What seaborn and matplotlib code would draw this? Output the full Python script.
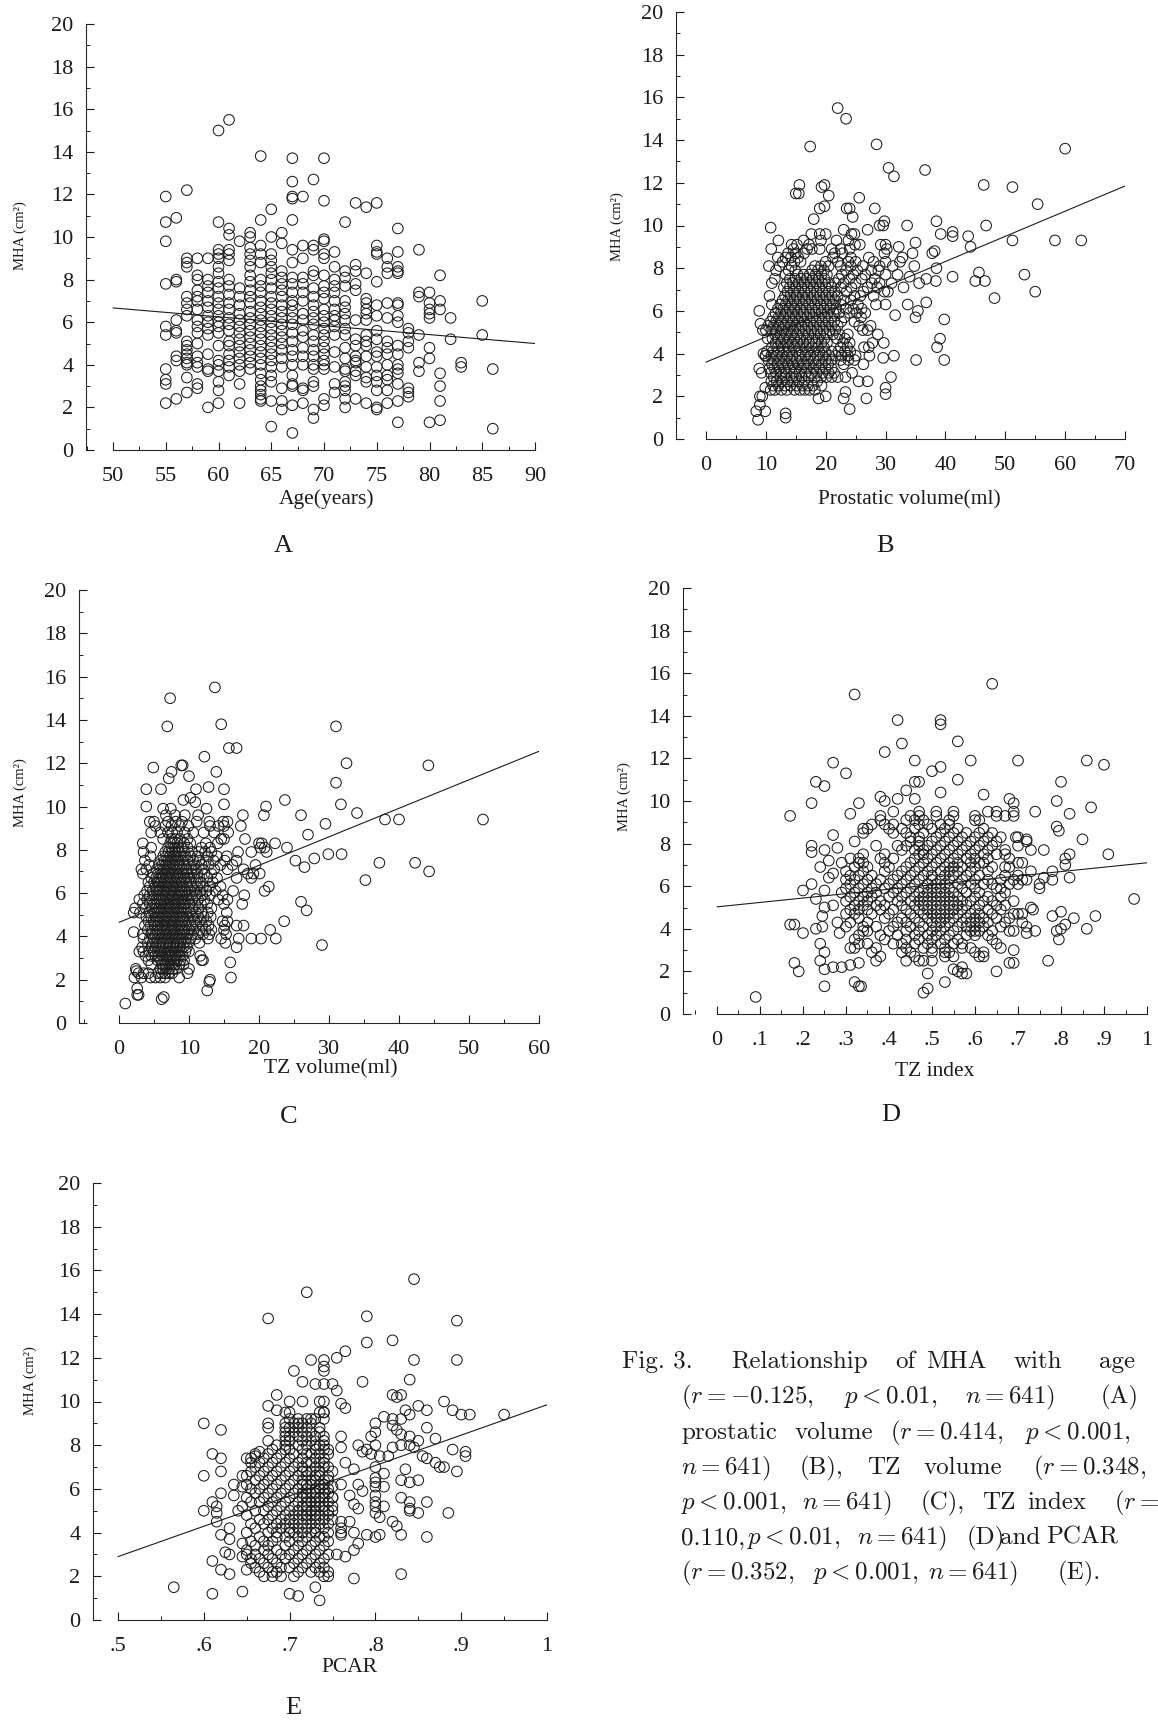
import matplotlib
matplotlib.use("Agg")
import matplotlib.pyplot as plt
import seaborn as sns
from matplotlib.ticker import MultipleLocator

sns.set_theme(style="ticks")
plt.rcParams['font.family'] = ['Liberation Serif', 'DejaVu Serif']

W, H = 1158, 1722
INK = '#1c1c1c'

# ---- panel A, age is whole years so one list of MHA per age
a_ages = [55,56,57,58,59,60,61,62,63,64,65,66,67,68,69,70,71,72,73,74,75,76,77,78,79,80,81,82,83,85,86]
a_mha = [
 [11.9,10.7,9.8,7.8,5.8,5.4,3.8,3.3,3.1,2.2],
 [10.9,8.0,7.9,6.1,5.6,5.5,4.4,4.2,2.4],
 [12.2,9.0,8.8,8.6,7.2,6.9,6.6,6.3,5.1,4.9,4.7,4.5,4.3,4.1,4.0,3.4,2.7],
 [9.0,8.2,8.0,7.5,7.2,7.0,6.6,6.1,5.8,5.5,5.0,4.4,4.1,3.9,3.1,2.9],
 [9.0,8.0,7.7,7.4,7.0,6.7,6.3,6.0,5.7,5.4,4.5,3.8,3.7,2.0],
 [15.0,10.7,9.4,9.2,9.0,8.6,8.3,7.9,7.6,7.2,6.9,6.6,6.3,6.0,5.8,5.5,4.9,4.2,4.0,3.7,3.2,2.8,2.2],
 [15.5,10.4,10.1,9.4,9.2,8.9,8.0,7.7,7.3,6.9,6.6,6.2,5.9,5.6,5.1,4.9,4.5,4.2,3.9,3.5],
 [9.8,7.6,7.2,6.8,6.4,6.1,5.8,5.5,5.2,4.9,4.6,4.3,4.0,3.7,3.1,2.2],
 [10.2,10.0,9.5,9.2,8.9,8.6,8.2,7.9,7.5,7.2,6.9,6.5,6.2,5.9,5.6,5.3,5.0,4.7,4.4,4.1,3.8],
 [13.8,10.8,9.6,9.2,8.8,8.0,7.7,7.4,7.0,6.7,6.4,6.1,5.8,5.5,5.2,4.9,4.6,4.3,4.0,3.6,3.3,3.0,2.8,2.6,2.4,2.3],
 [11.3,10.0,9.2,8.9,8.6,8.3,8.0,7.6,7.2,6.9,6.6,6.3,6.0,5.7,5.4,5.1,4.8,4.5,4.2,3.9,3.5,3.2,2.3,1.1],
 [10.2,9.7,8.4,8.1,7.8,7.5,7.2,6.8,6.5,6.2,5.9,5.6,5.3,5.0,4.7,4.3,3.9,2.9,2.3,1.9],
 [13.7,12.6,11.9,11.8,10.8,9.4,8.8,8.1,7.8,7.4,7.0,6.8,6.5,6.2,5.9,5.5,5.1,4.7,4.4,4.0,3.5,3.1,3.0,2.1,0.8],
 [11.9,9.6,9.0,8.1,7.8,7.4,7.0,6.4,6.1,5.6,5.3,4.8,4.4,4.0,2.9,2.8,2.2],
 [12.7,9.6,9.4,8.4,8.2,7.6,7.2,6.8,6.5,6.2,5.9,5.4,5.1,4.7,4.4,4.0,3.8,3.2,3.0,1.9,1.5],
 [13.7,11.7,9.9,9.8,9.2,9.0,8.2,7.7,7.4,7.1,6.6,6.3,6.0,5.7,5.4,5.1,4.8,4.5,4.2,4.0,3.8,2.4,2.1],
 [9.3,8.6,8.0,7.7,7.4,7.0,6.6,6.3,6.1,5.8,5.4,4.6,3.9,3.1,2.7],
 [10.7,8.4,8.1,7.7,7.0,6.7,6.4,6.1,5.7,5.4,4.8,4.3,3.8,3.7,3.2,3.0,2.8,2.4,2.0],
 [11.6,8.7,8.4,7.8,7.5,6.1,5.2,4.9,4.4,4.2,4.1,3.7,3.5,2.4],
 [11.4,8.3,7.1,6.9,6.6,6.4,6.1,5.4,5.1,4.9,4.4,3.9,3.4,3.2,2.2],
 [11.6,9.6,9.3,9.2,7.9,6.8,6.3,5.6,5.2,4.6,4.4,3.9,3.5,3.2,2.8,2.0,1.9],
 [9.0,8.6,8.3,6.9,6.2,5.1,4.8,4.5,4.0,3.5,3.3,2.8,2.2],
 [10.4,9.3,8.6,8.4,8.3,6.9,6.8,6.3,6.0,4.9,4.5,4.0,3.8,3.6,3.1,2.3,1.3],
 [5.7,5.5,5.1,4.8,2.9,2.7,2.5],
 [9.4,7.4,7.2,5.4,4.1,3.7],
 [7.4,6.9,6.6,6.4,6.2,4.8,4.3,1.3],
 [8.2,7.0,6.6,3.6,3.0,2.3,1.4],
 [6.2,5.2],
 [4.1,3.9],
 [7.0,5.4],
 [3.8,1.0],
]

# ---- panel B, scattered points then dense part row by row
b_single = [(22,15.5),(23.4,15),(17.4,13.7),(28.5,13.8),(60,13.6),(30.5,12.7),(31.4,12.3),(36.6,12.6),(46.4,11.9),(51.2,11.8),
 (55.4,11),(15.6,11.9),(15,11.5),(15.5,11.5),(19.8,11.9),(19.3,11.8),(20.5,11.4),(25.6,11.3),(28.2,10.8),(23.5,10.8),(24,10.8),
 (19,10.8),(19.8,10.9),(24.5,10.4),(18,10.3),(10.8,9.9),(29.8,10.2),(29,10),(29.6,10),(33.6,10),(38.5,10.2),(27,9.8),(23,9.8),
 (41.2,9.7),(46.8,10),(41.2,9.5),(39.2,9.6),(43.8,9.5),(44.2,9),(51.2,9.3),(58.3,9.3),(62.7,9.3),(35,9.2),(32.2,9),(34.5,8.7),
 (38.2,8.8),(37.8,8.7),(53.2,7.7),(55,6.9),(48.2,6.6),(45.6,7.8),(45,7.4),(46.6,7.4),(41.2,7.6),(38.5,8),(38.4,7.4),(36.8,7.5),
 (35.6,7.3),(34.8,8.1),(34,7.6),(33,7.1),(33.7,6.3),(36.8,6.4),(35.4,6),(35,5.7),(31.6,5.8),(39.8,5.6),(39.1,4.7),(38.6,4.3),
 (39.8,3.7),(35.1,3.7),(31.4,3.9),(29.6,3.8),(29.7,4.5),(30.9,2.9),(30,2.4),(30,2.1),(26.8,1.9),(24,1.4),(23,1.9),(23.3,2.2),
 (20,2),(18.8,1.9),(13.3,1.2),(13.3,1),(8.7,0.9),(8.4,1.3),(9.9,1.3),(9,1.6),(9,2),(9.4,2),(9.3,3.1),(8.9,3.3),(9.9,2.4),(10,3.9),
 (9.6,4),(9.1,5.4),(9.5,5.1),(8.9,6)]
b_rows_y = [2.3,2.5,2.7,2.9,3.1,3.3,3.5,3.7,3.9,4.1,4.3,4.5,4.7,4.9,5.1,5.3,5.5,5.7,5.9,6.1,6.3,6.5,6.7,6.9,7.1,7.3,7.5,7.7,7.9,8.1,8.3,8.5,8.7,8.9,9.1,9.3,9.6]
b_rows_x = [
 [10.8,11.5,12.6,13.5,14.8,15.7,16.5,17.3,18.2],
 [11.2,12.1,13.2,14.1,15.2,16.1,17,17.9,19.3],
 [10.9,11.8,12.7,13.6,14.5,15.5,16.4,18.6,25.5,27],
 [11.3,12.4,13.2,14.3,15.1,16,17.2,18.2,19.2,20.1,21,22,23.3],
 [10.8,11.7,12.6,13.4,14.7,15.6,16.6,17.6,18.5,19.5,20.5,21.4,24.4],
 [10.6,11.4,12.2,13.1,14,14.9,15.9,16.8,18,19,20,21],
 [11,11.9,12.8,13.7,14.5,15.4,16.3,17.2,18.3,19.3,20.4,23,26.3],
 [10.4,11.3,12.3,13.2,14.2,15.1,16,17,18,18.9,20,21,22.5,23.8,24.8],
 [9.9,10.9,11.8,12.7,13.6,14.5,15.6,16.6,17.5,18.6,19.6,20.6,21.7,22.7,23.7,25,27.3],
 [10.2,11.2,12.1,13,13.9,15,15.9,16.9,17.9,18.9,19.9,21,22.1,23.2,24.1],
 [11,12,12.9,13.8,14.8,15.7,16.7,17.7,18.7,19.7,22.5,23.6,26.4,27.2],
 [11.6,12.5,13.5,14.4,15.3,16.3,17.2,18.3,19.3,20.2,22.9,24,27.8],
 [10.3,11.1,12.1,13,13.9,14.8,15.8,16.8,17.8,18.8,19.8,21.9,23.2],
 [11.5,12.4,13.4,14.3,15.2,16.2,17.1,18.1,19.1,20.1,21.2,22.3,23.7,28.7],
 [10,10.9,11.8,12.7,13.7,14.6,15.6,16.6,17.6,18.6,19.6,20.6,21.6,26.2,27],
 [10.4,11.3,12.2,13.2,14.1,15,16,17,18,19,20,21,22,25.6,27.5],
 [10.8,11.7,12.6,13.6,14.5,15.5,16.4,17.4,18.4,19.4,20.4,21.4,22.6,24.8],
 [11.2,12.1,13,14,14.9,15.9,16.9,17.9,18.9,19.9,20.9,23.1,25.9],
 [11.6,12.5,13.4,14.4,15.3,16.3,17.3,18.3,19.3,20.3,21.3,22.2,24,25.2,26.6],
 [12,12.9,13.9,14.8,15.8,16.7,17.7,18.7,19.7,20.7,21.7,23.4,24.6,26],
 [11,12.4,13.3,14.3,15.2,16.2,17.2,18.2,19.2,20.2,21.2,22.5,25.4,28.4,30],
 [12.8,13.7,14.7,15.6,16.6,17.6,18.6,19.6,20.6,21.6,23,24.2],
 [10.6,13.2,14.1,15.1,16.1,17,18,19,20,21,22,24.8,25.8,28],
 [13.6,14.6,15.5,16.5,17.5,18.5,19.5,20.5,21.5,23.5,26.3,29.8,30.4],
 [13,14,15,16,17,18,19,20,21,22.5,24.3,27,28.6],
 [11,13.5,14.5,15.4,16.4,17.4,18.4,19.4,20.4,21.6,23,25,27.7,29,31],
 [11.5,14,14.9,15.9,16.8,17.8,18.8,19.8,22.2,24,26,28.2],
 [13.3,15.3,16.3,17.3,18.3,19.3,20.2,22.7,24.6,26.6,30,32],
 [11.7,13.8,14.9,17.7,18.7,19.7,23.4,25.3,27.6,28.8],
 [10.5,12.3,14.3,18.2,19.2,20.5,22.5,24.2,26.2,29,31.2],
 [12.8,14.8,15.8,20,22,23.8,25,28,30,32.4],
 [12,13.3,14.2,15.4,21.2,24.2,27.2,32.8],
 [13.7,15,16.4,21.5,22.8,29.8],
 [10.9,14.6,16.9,17.7,19,21,22.5,24,30.2],
 [14.3,15.2,17.2,24.9,25.7,29.2,30],
 [12.1,16.3,19.2,21.8,23.8],
 [17.6,19,20,24.3,24.8],
]

# ---- panel C
c_single = [(7.3,15),(13.7,15.5),(14.6,13.8),(6.9,13.7),(31,13.7),(15.7,12.7),(16.8,12.7),(12.2,12.3),(32.5,12),(44.2,11.9),(4.9,11.8),
 (8.9,11.9),(9.1,11.9),(13.9,11.6),(7.5,11.6),(7.1,11.3),(10,11.4),(3.9,10.8),(6,10.8),(11,10.8),(12.8,10.9),(15,10.8),(31,11.1),
 (23.7,10.3),(9.2,10.3),(10.2,10.4),(10.9,10.2),(15,10.1),(3.9,10),(12.5,9.9),(6.3,9.9),(7.4,9.9),(11.3,9.6),(21,10),(20.7,9.6),
 (26,9.6),(31.7,10.1),(34,9.7),(38,9.4),(40,9.4),(52,9.4),(29.5,9.2),(27,8.7),(29.9,7.8),(31.8,7.8),(27.9,7.6),(26.5,7.2),(37.2,7.4),
 (42.3,7.4),(44.3,7),(35.2,6.6),(26,5.6),(26.8,5.2),(23.6,4.7),(29,3.6),(21.6,4.3),(20.3,3.9),(22.4,3.9),(15.9,2.8),(16,2.1),(13,2),
 (12.9,1.9),(12.6,1.5),(6.4,1.2),(6.1,1.1),(2.6,1.6),(2.6,1.3),(2.8,1.3),(0.9,0.9),(2.2,2.1),(2.5,2.4),(2.1,4.2)]
c_rows_y = [2.1,2.3,2.5,2.7,2.9,3.1,3.3,3.5,3.7,3.9,4.1,4.3,4.5,4.7,4.9,5.1,5.3,5.5,5.7,5.9,6.1,6.3,6.5,6.7,6.9,7.1,7.3,7.5,7.7,7.9,8.1,8.3,8.5,8.8,9.1,9.3,9.6]
c_rows_x = [
 [3.2,4.5,5.2,5.9,6.6,8.6],
 [2.8,3.5,4.2,5.6,6.1,6.6,7.1,7.6,9.8],
 [2.4,5.9,6.3,6.8,7.2,7.7,8.2,10],
 [4.6,6.2,6.6,7.1,7.5,8,8.6,9.2],
 [4.2,5.5,6,6.4,6.9,7.3,7.8,8.3,8.8,9.3,11.8,12],
 [3.8,4.6,5.2,5.7,6.2,6.7,7.2,7.6,8.1,8.6,9.1,11.6],
 [2.9,3.5,4.3,5,5.5,6,6.5,7,7.4,7.9,8.4,8.9,9.5,10],
 [3.3,4.6,5.2,5.7,6.2,6.7,7.2,7.7,8.2,8.7,9.2,9.7,16.8],
 [4.1,4.8,5.3,5.8,6.3,6.8,7.3,7.8,8.3,8.8,9.3,9.9,11.5,15.2],
 [3.5,4.4,5,5.5,6,6.5,7,7.5,8,8.5,9,9.6,10.2,10.9,12.7,14.6,17.1,18.9],
 [3.4,4.6,5.2,5.7,6.2,6.7,7.2,7.7,8.2,8.7,9.2,9.8,10.4,11.2,12,12.9,15.3],
 [4.1,4.8,5.4,5.9,6.4,6.9,7.4,7.9,8.4,8.9,9.4,10,10.7,11.5,12.4,13.2,15],
 [3.7,4.5,5.1,5.6,6.1,6.6,7.1,7.6,8.1,8.6,9.1,9.7,10.3,11,11.9,12.8,15.1,16.8,17.8],
 [4.2,4.9,5.4,5.9,6.4,6.9,7.4,7.9,8.4,8.9,9.4,10,10.8,11.6,12.5,14.8,15.5],
 [3.9,4.6,5.2,5.7,6.2,6.7,7.2,7.7,8.2,8.7,9.2,9.8,10.5,11.3,12.1,13.1],
 [2.1,3,4.3,5,5.5,6,6.5,7,7.5,8,8.5,9,9.6,10.2,11,11.8,12.7,15.4],
 [2.3,3.8,4.7,5.3,5.8,6.3,6.8,7.3,7.8,8.3,8.8,9.3,9.9,10.6,11.4,13.2],
 [3.4,4.4,5,5.5,6,6.5,7,7.5,8,8.5,9,9.5,10.1,10.9,11.7,12.6,15,17.6],
 [2.9,4,4.7,5.3,5.8,6.3,6.8,7.3,7.8,8.3,8.8,9.3,9.9,10.5,11.3,12.2,14.2,15.5],
 [3.6,4.4,5,5.6,6.1,6.6,7.1,7.6,8.1,8.6,9.1,9.7,10.3,11,11.9,13,14.8,17.9],
 [4,4.8,5.4,5.9,6.4,6.9,7.4,7.9,8.4,8.9,9.5,10.1,10.8,11.6,12.5,13.8,16.3,20.8],
 [4.4,5.2,5.7,6.2,6.7,7.2,7.7,8.2,8.7,9.2,9.8,10.4,11.2,12,12.9,14.5,21.4],
 [4.2,5,5.5,6,6.5,7,7.5,8,8.5,9,9.6,10.2,11,11.7,13.4],
 [4.6,5.3,5.8,6.3,6.8,7.3,7.8,8.3,8.8,9.4,10,10.7,11.5,12.6,14,16.8,18.9],
 [3.4,4.9,5.6,6.1,6.6,7.1,7.6,8.1,8.6,9.2,9.8,10.4,11.2,12.2,13.2,18.4,19.2,20.1],
 [3.2,3.9,5.4,5.9,6.4,6.9,7.4,7.9,8.4,9,9.6,10.3,11,12,13.6,15.5,17.8],
 [4.3,5.7,6.2,6.7,7.2,7.7,8.2,8.7,9.3,10,10.8,11.8,12.8,14.5,16.2,19.5],
 [3.7,6,6.5,7,7.5,8,8.5,9.1,9.8,10.6,11.5,12.4,13.5,15.1,16.8,25.2],
 [4.5,6.3,6.8,7.3,7.8,8.3,8.8,9.5,10.2,11.2,12.7,14,15.4],
 [3.5,6.6,7.1,7.6,8.1,8.6,9.3,10.4,11.4,12.3,13.2,17,18.9,21.1],
 [4.6,7,7.5,8,8.5,9,9.8,11.8,13,20.2,20.8,24],
 [3.4,7.3,7.8,8.3,9.3,10.2,12.4,14.1,20,20.4,22.3],
 [6.3,7.5,8,8.7,9.8,14.6,15,18],
 [4.6,5.9,7,7.6,8.3,9.4,10.6,12.1,13.6,15.6],
 [5.2,6.6,7.5,8.7,9.9,13,14.2,15,17.4],
 [4.4,5,7,8.1,9,11.1,12.9,14.9,15.5],
 [6.7,8,9.4,17.7],
]

# ---- panel D
d_single = [(.09,.8),(.32,15),(.64,15.5),(.42,13.8),(.52,13.8),(.52,13.6),(.43,12.7),(.56,12.8),(.39,12.3),(.27,11.8),(.3,11.3),(.46,11.9),
 (.59,11.9),(.7,11.9),(.86,11.9),(.9,11.7),(.52,11.6),(.5,11.4),(.46,10.9),(.47,10.9),(.56,11),(.23,10.9),(.25,10.7),(.22,9.9),(.17,9.3),
 (.8,10.9),(.52,10.4),(.44,10.5),(.42,10.1),(.46,10.1),(.38,10.2),(.39,10),(.62,10.3),(.79,10),(.87,9.7),(.68,10.1),(.69,9.9),(.82,9.4),
 (.74,9.5),(.33,9.9),(.31,9.4),(.79,8.8),(.795,8.6),(.85,8.2),(.91,7.5),(.97,5.4),(.88,4.6),(.86,4),(.83,4.5),(.82,7.5),(.81,7.3),(.81,7),
 (.82,6.4),(.78,6.7),(.78,6.3),(.27,8.4),(.22,7.9),(.22,7.6),(.25,7.7),(.28,7.8),(.24,6.9),(.26,7.2),(.27,6.6),(.22,6.1),(.2,5.8),(.23,5.4),
 (.25,5.8),(.26,6.4),(.25,5),(.27,5.1),(.245,4.6),(.28,4.3),(.245,4.1),(.23,4),(.285,3.8),(.2,3.8),(.17,4.2),(.18,4.2),(.24,3.3),(.25,2.9),
 (.24,2.5),(.18,2.4),(.19,2),(.25,2.1),(.27,2.2),(.29,2.2),(.31,2.3),(.33,2.4),(.25,1.3),(.32,1.5),(.33,1.3),(.335,1.3),(.48,1),(.49,1.2),
 (.53,1.5),(.49,1.9),(.78,4.6),(.8,4.8),(.8,4),(.79,3.9),(.795,3.5),(.81,4.2),(.77,2.5),(.74,3.9),(.72,3.8),(.73,5),(.735,4.9),(.75,5.9),
 (.76,6.4),(.75,6.1),(.76,7.7),(.73,7.7),(.72,8.2),(.65,2),(.69,2.4),(.68,2.4),(.69,3),(.56,2),(.55,2.1),(.57,1.9),(.58,1.9),(.57,2.2)]
d_rows_y = [2.5,2.7,2.9,3.1,3.3,3.5,3.7,3.9,4.1,4.3,4.5,4.7,4.9,5.1,5.3,5.5,5.7,5.9,6.1,6.3,6.5,6.7,6.9,7.1,7.3,7.5,7.7,7.9,8.1,8.3,8.5,8.7,8.9,9.1,9.3,9.5]
d_rows_x = [
 [.37,.44,.47,.48,.5],
 [.38,.46,.53,.55,.62,.61],
 [.36,.43,.45,.5,.53,.54,.6,.62],
 [.31,.32,.37,.44,.48,.5,.53,.59,.57,.66],
 [.33,.35,.41,.43,.46,.49,.52,.55,.65,.57],
 [.32,.39,.44,.47,.5,.53,.56,.64],
 [.33,.38,.42,.46,.49,.51,.54,.58,.6,.63],
 [.34,.35,.4,.44,.47,.5,.52,.55,.59,.6,.61,.64,.68,.69],
 [.3,.34,.37,.41,.45,.48,.51,.53,.56,.58,.6,.62,.66,.72],
 [.31,.35,.42,.44,.47,.5,.52,.54,.57,.59,.61,.63,.67,.71],
 [.33,.39,.43,.46,.49,.51,.53,.55,.58,.6,.62,.65,.68],
 [.3,.32,.36,.4,.45,.48,.5,.52,.54,.56,.59,.61,.64,.69,.7,.71],
 [.31,.33,.35,.38,.41,.44,.47,.49,.51,.53,.55,.57,.6,.63,.66],
 [.32,.34,.37,.39,.43,.46,.48,.5,.52,.54,.56,.58,.61,.65,.67],
 [.3,.33,.35,.38,.42,.45,.47,.49,.51,.53,.55,.57,.59,.62,.64,.69],
 [.31,.34,.36,.4,.43,.46,.48,.5,.52,.54,.56,.6,.63,.66],
 [.29,.32,.35,.37,.41,.44,.47,.49,.51,.53,.55,.58,.61,.67],
 [.3,.33,.36,.39,.42,.45,.48,.5,.52,.54,.57,.6,.65,.66],
 [.31,.34,.37,.4,.43,.46,.49,.51,.53,.56,.59,.62,.64,.68,.7],
 [.3,.32,.35,.38,.41,.44,.47,.5,.52,.54,.57,.6,.63,.66,.69,.71,.72],
 [.31,.33,.36,.42,.45,.48,.5,.53,.55,.58,.61,.67,.7],
 [.3,.34,.39,.43,.46,.49,.52,.54,.56,.59,.63,.73],
 [.32,.35,.4,.44,.47,.5,.53,.55,.57,.6,.64,.67,.68],
 [.29,.33,.34,.39,.45,.48,.51,.54,.56,.59,.61,.62,.7,.71],
 [.31,.33,.38,.41,.46,.49,.52,.55,.58,.6,.63,.68],
 [.34,.39,.47,.48,.5,.53,.56,.59,.62,.65,.67],
 [.43,.46,.48,.51,.54,.57,.6,.63,.67],
 [.37,.42,.44,.47,.49,.52,.55,.58,.61,.64,.7],
 [.32,.45,.47,.5,.53,.56,.59,.62,.65,.72],
 [.45,.47,.51,.54,.57,.6,.63,.66,.7,.695],
 [.34,.41,.44,.48,.52,.55,.58,.61,.64],
 [.35,.34,.4,.43,.46,.5,.53,.56,.62],
 [.36,.39,.41,.47,.49,.52,.54],
 [.38,.44,.46,.48,.54,.6,.61],
 [.38,.45,.47,.51,.55,.6,.65,.67,.69],
 [.41,.47,.51,.55,.63,.65,.69],
]

# ---- panel E
e_single = [(.565,1.5),(.61,1.2),(.645,1.3),(.7,1.2),(.71,1.1),(.735,.9),(.73,1.5),(.775,1.9),(.83,2.1),(.61,2.7),(.62,2.3),(.63,2.1),(.65,2.3),
 (.6,9),(.62,8.7),(.61,7.6),(.62,7.4),(.62,6.8),(.6,6.6),(.6,5),(.61,5.4),(.72,15),(.845,15.6),(.675,13.8),(.79,13.9),(.895,13.7),(.79,12.7),
 (.82,12.8),(.765,12.3),(.755,12),(.725,11.9),(.74,11.9),(.74,11.4),(.74,11.6),(.705,11.4),(.845,11.9),(.895,11.9),(.84,11),(.785,10.9),
 (.715,10.9),(.73,10.8),(.74,10.8),(.75,10.8),(.755,10.5),(.825,10.2),(.82,10.3),(.83,10.3),(.715,10),(.735,10),(.74,10),(.685,10.3),(.7,10),
 (.675,9.8),(.685,9.6),(.76,9.9),(.765,9.7),(.85,9.8),(.86,9.6),(.88,10),(.89,9.6),(.9,9.4),(.91,9.4),(.95,9.4),(.835,9.6),(.84,9.4),(.81,9.3),
 (.82,9.2),(.83,9.2),(.675,9),(.675,8.8),(.76,8.4),(.76,7.9),(.8,9),(.795,8.4),(.8,8.6),(.86,8.8),(.84,8.4),(.87,8.3),(.85,8.2),(.82,8.9),
 (.825,8.7),(.83,8.5),(.83,8),(.84,8),(.845,7.9),(.82,7.9),(.855,7.5),(.86,7.4),(.87,7.2),(.88,7),(.89,7.8),(.905,7.7),(.905,7.5),(.895,6.8),
 (.875,7),(.85,6.4),(.84,6.3),(.83,6.4),(.835,6.9),(.81,6.7),(.81,6.1),(.795,7.6),(.785,7.7),(.78,8),(.8,8),(.79,7.8),(.805,7.5),(.815,7.5),
 (.8,7),(.8,6.5),(.8,6.3),(.8,6.1),(.775,6.9),(.765,7.2),(.76,6.2),(.75,6.1),(.78,6.2),(.785,5.9),(.77,5.7),(.775,5.3),(.78,5.1),(.8,5.7),
 (.8,5.4),(.8,5.2),(.81,5.2),(.805,4.7),(.8,4.9),(.82,4.5),(.825,4.3),(.83,3.9),(.83,5.6),(.84,5.4),(.84,5),(.84,5.1),(.85,4.9),(.86,5.4),
 (.885,4.9),(.86,3.8),(.805,3.9),(.8,3.8),(.79,3.9),(.775,4),(.78,3.5),(.775,3.2),(.755,3),(.765,2.9),(.76,4.5),(.76,4.2),(.76,4),(.76,3.9),
 (.77,4.5),(.75,5.6),(.75,5),(.615,5.2),(.615,4.9),(.615,4.5),(.62,5.8),(.62,3.9),(.63,3.7),(.63,4.2),(.635,6.2),(.635,5.7),(.63,3),(.625,3.1),
 (.645,3.5),(.65,3),(.645,2.9),(.64,5),(.65,6.6),(.645,6.1),(.655,7.4),(.66,7.5),(.665,7.7),(.655,7.2)]
e_rows_y = [2.0,2.2,2.4,2.6,2.8,3.0,3.2,3.4,3.6,3.8,4.0,4.2,4.4,4.6,4.8,5.0,5.2,5.4,5.6,5.8,6.0,6.2,6.4,6.6,6.8,7.0,7.2,7.4,7.6,7.8,8.0,8.2,8.4,8.6,8.8,9.0,9.2,9.5]
e_rows_x = [
 [.67,.68,.69,.705,.74,.745],
 [.665,.68,.685,.71,.725,.735,.745],
 [.66,.675,.69,.70,.715,.73,.74],
 [.655,.67,.685,.705,.72,.735],
 [.655,.665,.68,.695,.71,.725,.74],
 [.66,.675,.69,.70,.715,.73,.745],
 [.65,.67,.685,.705,.72,.735],
 [.66,.675,.695,.71,.725,.74],
 [.655,.67,.68,.70,.715,.73,.745],
 [.665,.685,.695,.71,.72,.735,.74],
 [.65,.675,.685,.70,.705,.715,.725,.73,.745],
 [.66,.68,.69,.70,.71,.72,.73,.74],
 [.655,.67,.685,.695,.705,.715,.725,.735,.745],
 [.665,.675,.69,.70,.71,.72,.73,.74,.75],
 [.65,.68,.695,.705,.715,.72,.725,.73,.735,.745],
 [.66,.67,.685,.70,.71,.72,.725,.73,.74,.745],
 [.645,.675,.69,.705,.715,.72,.73,.735,.74,.75],
 [.655,.665,.68,.695,.71,.72,.725,.73,.735,.745],
 [.65,.67,.685,.70,.715,.72,.73,.735,.74,.75],
 [.66,.675,.69,.705,.715,.72,.725,.73,.74,.745],
 [.655,.665,.68,.695,.71,.72,.73,.735,.74,.745],
 [.65,.67,.685,.70,.715,.72,.725,.735,.74],
 [.66,.675,.69,.705,.715,.725,.73,.74,.745],
 [.645,.665,.68,.695,.71,.72,.73,.735,.745],
 [.655,.67,.685,.70,.715,.72,.725,.735,.75],
 [.66,.675,.69,.705,.715,.73,.74,.745],
 [.665,.68,.695,.71,.72,.725,.735,.74],
 [.65,.67,.685,.70,.715,.73,.74],
 [.66,.675,.69,.705,.72,.725,.735,.745],
 [.68,.695,.70,.715,.73,.74,.745],
 [.685,.695,.71,.72,.73,.735,.74],
 [.675,.695,.70,.715,.725,.74],
 [.695,.70,.71,.72,.73,.74],
 [.695,.705,.715,.725,.735],
 [.695,.70,.71,.72,.735],
 [.695,.705,.71,.715,.725],
 [.70,.71,.72,.725,.73,.74],
 [.695,.70,.735,.74,.74],
]

# fitted lines, ends
a_line_x, a_line_y = [50, 90], [6.67, 5.0]
b_line_x, b_line_y = [0, 70], [3.6, 11.85]
c_line_x, c_line_y = [0, 60], [4.65, 12.55]
d_line_x, d_line_y = [0, 1], [5.03, 7.1]
e_line_x, e_line_y = [.5, 1], [2.9, 9.85]


def flatten(single, rows_y, rows_x):
    xs = [p[0] for p in single]
    ys = [p[1] for p in single]
    for yy, row in zip(rows_y, rows_x):
        xs += row
        ys += [yy] * len(row)
    return xs, ys


def px(x, y):
    return x / W, 1 - y / H


def panel(xs, ys, lx, ly, spine, x0, x1, y20, y0, xticks, xlabs, xminor, xlabel, xlabel_pos, letter, letter_pos, ylab_pos):
    # spine, x0, x1 are pixels of the y axis and of first and last x tick, y20 and y0 of the y ticks
    fig_l, fig_t = px(spine, y20)
    fig_r, fig_b = px(x1, y0)
    ax = fig.add_axes([fig_l, fig_b, fig_r - fig_l, fig_t - fig_b])
    t0, t1 = xticks[0], xticks[-1]
    ax.set_xlim(t0 - (x0 - spine) * (t1 - t0) / (x1 - x0), t1)
    ax.set_ylim(0, 20)
    ax.patch.set_alpha(0)
    sns.scatterplot(x=xs, y=ys, ax=ax, s=58, facecolor='none', edgecolor=INK, linewidth=0.75, clip_on=False, zorder=3)
    sns.lineplot(x=lx, y=ly, ax=ax, color=INK, linewidth=0.8, errorbar=None, zorder=2)
    ax.spines['top'].set_visible(False)
    ax.spines['right'].set_visible(False)
    ax.spines['left'].set_linewidth(0.8)
    ax.spines['bottom'].set_linewidth(0.8)
    ax.spines['bottom'].set_bounds(t0, t1)
    ax.set_yticks(range(0, 21, 2))
    ax.yaxis.set_minor_locator(MultipleLocator(1))
    ax.set_xticks(xticks)
    ax.set_xticklabels(xlabs)
    ax.xaxis.set_minor_locator(MultipleLocator(xminor))
    ax.tick_params(axis='both', which='major', direction='in', length=6, width=0.8, labelsize=16, colors=INK)
    ax.tick_params(axis='both', which='minor', direction='in', length=3, width=0.7, colors=INK)
    ax.tick_params(axis='x', which='major', pad=12)
    ax.tick_params(axis='y', which='major', pad=9)
    fig.text(*px(*xlabel_pos), xlabel, fontsize=15.5, color=INK, ha='center', va='center')
    fig.text(*px(*letter_pos), letter, fontsize=19, color=INK, ha='center', va='center')
    fig.text(*px(*ylab_pos), 'MHA (cm²)', fontsize=10.5, color=INK, rotation=90, ha='center', va='center')
    return ax


fig = plt.figure(figsize=(W / 100, H / 100), dpi=100)

a_x = [a for a, vals in zip(a_ages, a_mha) for v in vals]
a_y = [v for vals in a_mha for v in vals]
panel(a_x, a_y, a_line_x, a_line_y, 86, 113, 535, 24, 450,
      list(range(50, 91, 5)), [str(v) for v in range(50, 91, 5)], 2.5,
      'Age(years)', (327, 499), 'A', (283, 546), (20, 236))

b_x, b_y = flatten(b_single, b_rows_y, b_rows_x)
panel(b_x, b_y, b_line_x, b_line_y, 676, 706, 1125, 12, 439,
      list(range(0, 71, 10)), [str(v) for v in range(0, 71, 10)], 5,
      'Prostatic volume(ml)', (909, 500), 'B', (885, 546), (617, 227))

c_x, c_y = flatten(c_single, c_rows_y, c_rows_x)
panel(c_x, c_y, c_line_x, c_line_y, 79, 119, 539, 590, 1023,
      list(range(0, 61, 10)), [str(v) for v in range(0, 61, 10)], 5,
      'TZ volume(ml)', (331, 1069), 'C', (289, 1117), (20, 793))

d_x, d_y = flatten(d_single, d_rows_y, d_rows_x)
panel(d_x, d_y, d_line_x, d_line_y, 683, 717, 1147, 588, 1014,
      [i / 10 for i in range(11)], ['0', '.1', '.2', '.3', '.4', '.5', '.6', '.7', '.8', '.9', '1'], .05,
      'TZ index', (935, 1071), 'D', (891, 1115), (624, 797))

e_x, e_y = flatten(e_single, e_rows_y, e_rows_x)
panel(e_x, e_y, e_line_x, e_line_y, 93, 118, 547, 1183, 1620,
      [.5, .6, .7, .8, .9, 1], ['.5', '.6', '.7', '.8', '.9', '1'], .05,
      'PCAR', (349, 1667), 'E', (293, 1708), (30, 1381))

# caption, justified in the source so words are placed one by one, it runs off the page on the right
caption = [
 (1368, [('Fig. 3.', 622), ('Relationship', 731), ('of', 895), ('MHA', 926), ('with', 1014), ('age', 1099)]),
 (1403, [(r'$(r=-0.125,$', 681), (r'$p<0.01,$', 844), (r'$n=641)$', 965), ('(A)', 1101)]),
 (1439, [('prostatic', 681), ('volume', 795), (r'$(r=0.414,$', 890), (r'$p<0.001,$', 1025)]),
 (1474, [(r'$n=641)$', 681), ('(B),', 800), ('TZ', 867), ('volume', 924), (r'$(r=0.348,$', 1033)]),
 (1509, [(r'$p<0.001,$', 681), (r'$n=641)$', 802), ('(C),', 921), ('TZ', 982), ('index', 1027), (r'$(r=$', 1114)]),
 (1544, [('0.110,', 681), (r'$p<0.01,$', 747), (r'$n=641)$', 857), ('(D)', 967), ('and', 1000), ('PCAR', 1046)]),
 (1579, [(r'$(r=0.352,$', 681), (r'$p<0.001,$', 813), (r'$n=641)$', 928), ('(E).', 1058)]),
]
for base, words in caption:
    for word, xpos in words:
        fig.text(*px(xpos, base), word, fontsize=18, color=INK, ha='left', va='baseline',
                 family='cmr10', math_fontfamily='cm')

fig.savefig('out.png', dpi=100)
